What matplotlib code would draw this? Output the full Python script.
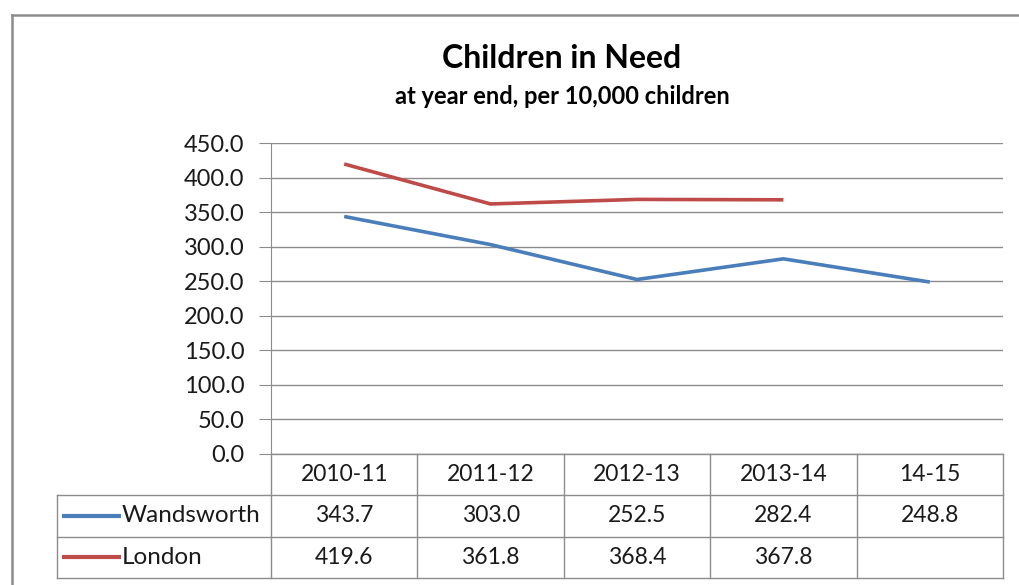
import numpy as np
import matplotlib.pyplot as plt
from matplotlib.lines import Line2D

years = ["2010-11", "2011-12", "2012-13", "2013-14", "14-15"]
wandsworth = [343.7, 303.0, 252.5, 282.4, 248.8]
london = [419.6, 361.8, 368.4, 367.8, np.nan]
series = [("Wandsworth", wandsworth, "#4A7EBB"), ("London", london, "#BE4B48")]

plt.rcParams['font.family'] = ['Lato', 'DejaVu Sans']
W, H = 1019, 585
grey = "#8C8C8C"
txt = "#1A1A1A"

fig = plt.figure(figsize=(W / 100, H / 100), dpi=100)

# outer chart frame
fig.add_artist(Line2D([12 / W, 12 / W], [0, 1 - 15 / H], color=grey, lw=1.8))
fig.add_artist(Line2D([12 / W, 1], [1 - 15 / H, 1 - 15 / H], color=grey, lw=1.8))

fig.text(562 / W, 1 - 58 / H, "Children in Need", ha="center", va="center",
         fontsize=23, fontweight="bold", color="black")
fig.text(562 / W, 1 - 97 / H, "at year end, per 10,000 children", ha="center",
         va="center", fontsize=17, fontweight="bold", color="black")

x0, x1 = 271, 1003
ax = fig.add_axes([x0 / W, 1 - 454 / H, (x1 - x0) / W, (454 - 143) / H])
x = np.arange(len(years))
for name, vals, col in series:
    ax.plot(x, vals, color=col, lw=2.6, solid_capstyle="butt")
ax.set_xlim(-0.5, len(years) - 0.5)
ax.set_ylim(0, 450)
ax.set_yticks(np.arange(0, 451, 50))
ax.set_yticklabels([f"{v:.1f}" for v in np.arange(0, 451, 50)])
ax.set_xticks([])
ax.grid(axis="y", color=grey, lw=1)
ax.set_axisbelow(True)
for s in ["top", "right", "bottom"]:
    ax.spines[s].set_visible(False)
ax.spines["left"].set_color(grey)
ax.tick_params(axis="y", length=9, color=grey, labelsize=17, labelcolor=txt, pad=10)

# data table under the plot
tab = fig.add_axes([x0 / W, 1 - 578 / H, (x1 - x0) / W, (578 - 454) / H])
tab.set_xlim(-0.5, len(years) - 0.5)
tab.set_ylim(3, 0)
tab.axis("off")
colw = (x1 - x0) / len(years)
lab_left = -0.5 - (x0 - 57) / colw
kw = dict(color=grey, lw=1, clip_on=False)
tab.plot([-0.5, len(years) - 0.5], [0, 0], **kw)
for r in (1, 2, 3):
    tab.plot([lab_left, len(years) - 0.5], [r, r], **kw)
for k in range(len(years) + 1):
    tab.plot([k - 0.5, k - 0.5], [0, 3], **kw)
tab.plot([lab_left, lab_left], [1, 3], **kw)

for i, yr in enumerate(years):
    tab.text(i, 0.5, yr, ha="center", va="center", fontsize=16.5, color=txt)
for r, (name, vals, col) in enumerate(series, start=1):
    key0 = lab_left + 5 / colw
    key1 = lab_left + 64 / colw
    tab.plot([key0, key1], [r + 0.5, r + 0.5], color=col, lw=3, clip_on=False,
             solid_capstyle="butt")
    tab.text(key1 + 1 / colw, r + 0.5, name, ha="left", va="center",
             fontsize=17.5, color=txt)
    for i, v in enumerate(vals):
        if not np.isnan(v):
            tab.text(i, r + 0.5, f"{v:.1f}", ha="center", va="center",
                     fontsize=16.5, color=txt)

fig.savefig("out.png", dpi=100)
